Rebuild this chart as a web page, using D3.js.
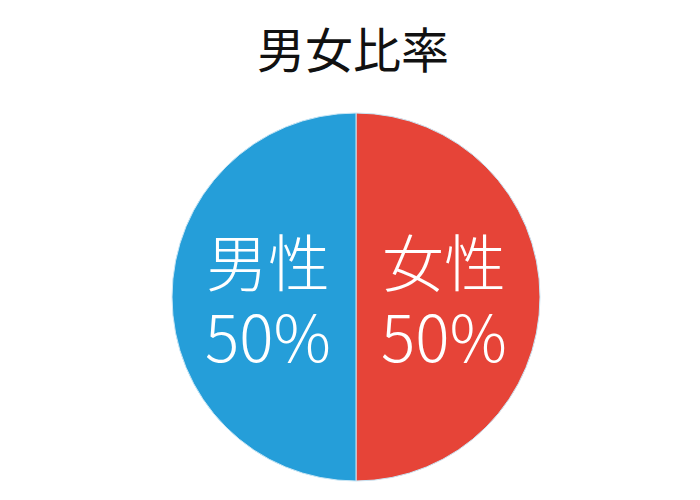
<!DOCTYPE html>
<html>
<head>
<meta charset="utf-8">
<script src="https://cdn.jsdelivr.net/npm/d3@7"></script>
<style>
  body { margin: 0; background: #fff; }
  text { font-family: "Noto Sans CJK JP", "Noto Sans", sans-serif; }
</style>
</head>
<body>
<svg id="gender_pie" width="700" height="500"></svg>
<script>

// data
var categories = ["女性", "男性"];
var values = [50, 50];
var colors = ["#e64438", "#259ed9"];
var chart_title = "男女比率";

var width = 700, height = 500;
var cx = 356, cy = 297, radius = 184;

var svg = d3.select("#gender_pie");

// title
svg.append("text")
    .attr("x", 353)
    .attr("y", 47)
    .attr("text-anchor", "middle")
    .attr("dominant-baseline", "central")
    .attr("font-size", 48)
    .attr("fill", "#111")
    .text(chart_title);

var pie_g = svg.append("g")
    .attr("transform", "translate(" + cx + "," + cy + ")");

var pie = d3.pie().sort(null).value(function(d) { return d; });
var arcs = pie(values);

var arc = d3.arc().innerRadius(0).outerRadius(radius);
var label_arc = d3.arc().innerRadius(88).outerRadius(88);

pie_g.selectAll("path")
    .data(arcs)
    .enter().append("path")
    .attr("d", arc)
    .attr("fill", function(d, i) { return colors[i]; })
    .attr("stroke", "#c9e6f5")
    .attr("stroke-width", 1);

// one label per slice: category name, then share on a second line
var labels = pie_g.selectAll("text.label")
    .data(arcs)
    .enter().append("text")
    .attr("class", "label")
    .attr("transform", function(d) { return "translate(" + label_arc.centroid(d) + ")"; })
    .attr("text-anchor", "middle")
    .attr("font-weight", 300)
    .attr("fill", "#fff");

labels.append("tspan")
    .attr("x", 0)
    .attr("y", -37)
    .attr("dominant-baseline", "central")
    .attr("font-size", 62)
    .text(function(d, i) { return categories[i]; });

labels.append("tspan")
    .attr("x", 0)
    .attr("y", 37)
    .attr("dominant-baseline", "central")
    .attr("font-size", 64)
    .text(function(d) { return d.value + "%"; });

</script>
</body>
</html>
